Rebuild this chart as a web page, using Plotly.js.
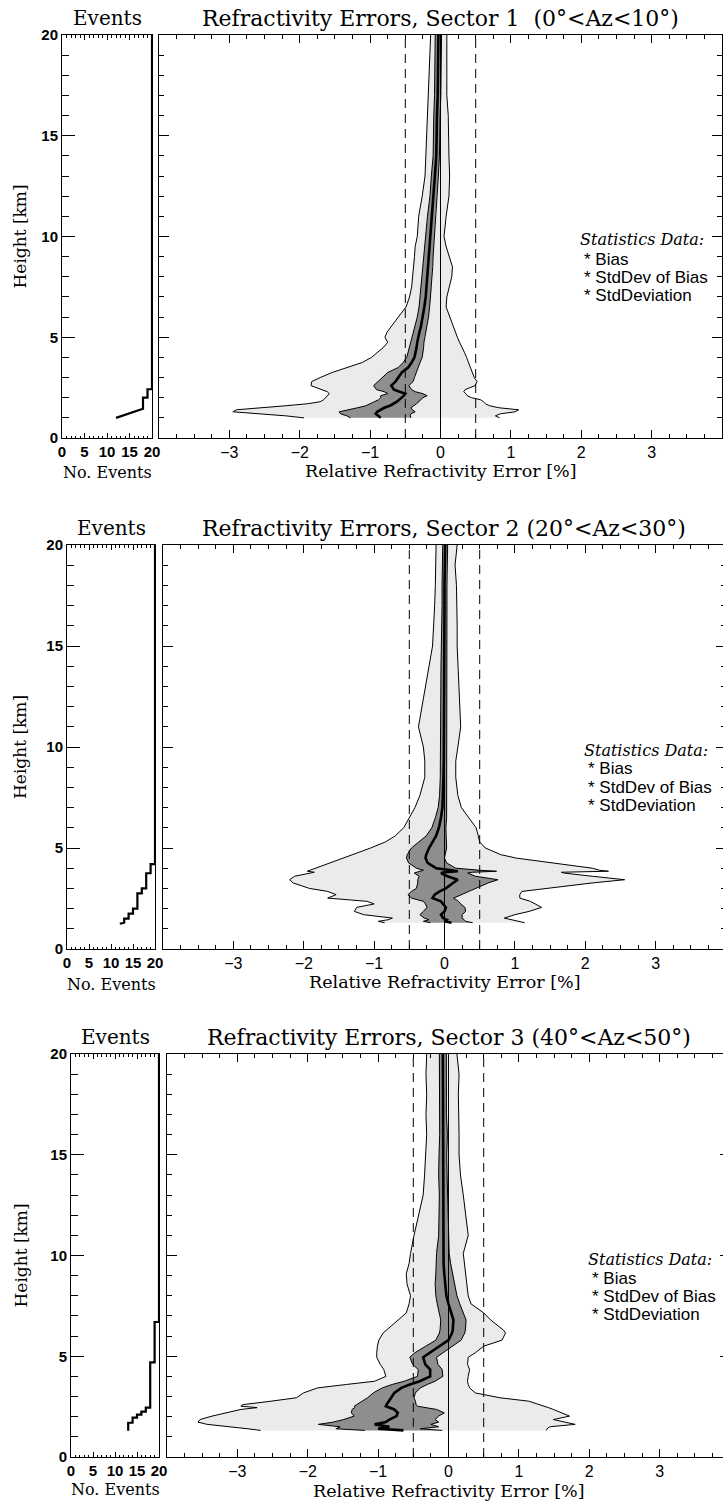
<!DOCTYPE html>
<html>
<head>
<meta charset="utf-8">
<script src="https://cdn.plot.ly/plotly-3.0.1.min.js"></script>
<style>
html,body{margin:0;padding:0;background:#fff;overflow:hidden;}
#plot{width:735px;height:1504px;}
</style>
</head>
<body>
<div id="plot"></div>
<script>
// ---------------- DATA ----------------
// Sector 1
const h1    = [20,19,18,17,16,15,14,13,12,11,10,9.5,9,8.5,8,7.5,7,6.5,6,5.5,5.25,5,4.75,4.5,4.25,4,3.75,3.5,3.25,3,2.8,2.6,2.4,2.3,2.2,2.1,2,1.9,1.8,1.7,1.6,1.5,1.4,1.3,1.2,1.1,1.0];
const sdL1  = [-0.14,-0.15,-0.16,-0.17,-0.18,-0.19,-0.2,-0.22,-0.26,-0.31,-0.33,-0.36,-0.37,-0.38,-0.39,-0.41,-0.44,-0.49,-0.6,-0.71,-0.76,-0.79,-0.75,-0.81,-0.9,-0.98,-1.11,-1.32,-1.54,-1.71,-1.83,-1.84,-1.68,-1.61,-1.58,-1.61,-1.64,-1.66,-1.71,-1.89,-2.2,-2.56,-2.9,-2.95,-2.5,-2.2,-1.94];
const sdR1  = [0.09,0.09,0.08,0.09,0.11,0.11,0.12,0.13,0.12,0.08,0.05,0.08,0.13,0.17,0.16,0.12,0.09,0.08,0.13,0.18,0.21,0.24,0.27,0.31,0.34,0.37,0.4,0.42,0.45,0.48,0.52,0.49,0.35,0.33,0.36,0.38,0.44,0.57,0.61,0.64,0.7,0.83,1.11,1.06,0.85,0.78,0.84];
const bias1 = [-0.03,-0.03,-0.04,-0.04,-0.05,-0.05,-0.06,-0.08,-0.1,-0.13,-0.15,-0.16,-0.17,-0.18,-0.19,-0.2,-0.21,-0.23,-0.25,-0.28,-0.3,-0.32,-0.33,-0.34,-0.35,-0.37,-0.41,-0.46,-0.55,-0.6,-0.64,-0.7,-0.66,-0.58,-0.5,-0.52,-0.55,-0.58,-0.62,-0.67,-0.72,-0.8,-0.85,-0.9,-0.92,-0.88,-0.85];
const sdb1  = [0.045,0.045,0.045,0.045,0.045,0.045,0.045,0.05,0.05,0.055,0.06,0.06,0.065,0.07,0.07,0.07,0.075,0.075,0.08,0.085,0.09,0.09,0.095,0.1,0.105,0.11,0.12,0.14,0.2,0.23,0.25,0.25,0.25,0.22,0.25,0.33,0.3,0.3,0.32,0.33,0.34,0.38,0.45,0.54,0.5,0.45,0.43];
const ev1X  = [20,20,19,19,18,18,12];
const ev1Y  = [20,2.42,2.42,2.0,2.0,1.45,1.0];

// Sector 2
const h2    = [20,19,18,17,16,15,14,13,12,11,10,9.3,8.5,7.6,7.0,6.5,6.0,5.6,5.3,5.0,4.67,4.5,4.26,4.0,3.9,3.85,3.8,3.76,3.6,3.43,3.27,3.0,2.85,2.69,2.52,2.36,2.23,2.06,1.86,1.7,1.53,1.45,1.37,1.3];
const sdL2  = [-0.12,-0.12,-0.13,-0.14,-0.16,-0.17,-0.22,-0.27,-0.32,-0.37,-0.3,-0.28,-0.28,-0.35,-0.42,-0.5,-0.58,-0.7,-0.84,-1.05,-1.3,-1.43,-1.62,-1.82,-1.9,-1.95,-1.85,-1.9,-2.13,-2.2,-2.15,-1.92,-1.66,-1.54,-1.66,-1.1,-1.0,-1.25,-1.28,-1.15,-0.74,-0.8,-0.94,-0.85];
const sdR2  = [0.18,0.15,0.17,0.18,0.18,0.18,0.19,0.2,0.22,0.23,0.19,0.16,0.16,0.19,0.24,0.35,0.45,0.48,0.5,0.58,0.8,1.02,1.53,2.1,2.2,2.33,1.66,1.7,2.1,2.56,2.1,1.48,1.1,1.07,1.07,1.22,1.3,1.38,1.2,1.0,0.85,0.96,1.05,1.14];
const bias2 = [0.01,0.0,0.0,0.0,0.0,-0.01,-0.01,-0.01,-0.01,-0.01,-0.01,-0.01,-0.015,-0.02,-0.03,-0.05,-0.08,-0.12,-0.17,-0.22,-0.26,-0.27,-0.24,-0.12,0.1,0.19,0.0,-0.05,0.04,0.19,0.12,0.02,-0.07,-0.14,-0.17,-0.05,-0.02,0.02,0.0,-0.05,-0.02,0.03,0.0,0.1];
const sdb2  = [0.035,0.035,0.035,0.035,0.035,0.035,0.04,0.04,0.04,0.04,0.04,0.04,0.045,0.05,0.06,0.08,0.1,0.14,0.2,0.25,0.27,0.27,0.27,0.28,0.4,0.55,0.4,0.38,0.4,0.57,0.5,0.42,0.4,0.38,0.3,0.25,0.25,0.27,0.3,0.3,0.27,0.25,0.3,0.3];
const ev2X  = [20,20,19,19,18,18,17,17,16,16,15,15,14,14,13,13,12];
const ev2Y  = [20,4.2,4.2,3.75,3.75,3.0,3.0,2.75,2.75,2.0,2.0,1.75,1.75,1.5,1.5,1.3,1.25];

// Sector 3
const h3    = [20,19,18,17,16,15,14,13,12,11,10.1,9.6,9.1,8.6,8.0,7.6,7.15,6.8,6.3,6.15,5.8,5.5,5.17,4.95,4.6,4.34,4.0,3.76,3.6,3.43,3.18,2.94,2.77,2.6,2.52,2.45,2.36,2.19,2.03,1.86,1.73,1.62,1.5,1.4,1.32];
const sdL3  = [-0.31,-0.32,-0.31,-0.32,-0.31,-0.32,-0.34,-0.36,-0.43,-0.49,-0.54,-0.56,-0.6,-0.59,-0.54,-0.56,-0.6,-0.72,-0.89,-0.93,-0.99,-1.01,-1.02,-1.02,-0.97,-0.92,-0.89,-1.05,-1.45,-1.86,-2.06,-2.16,-2.52,-2.92,-2.95,-2.72,-2.95,-3.18,-3.36,-3.53,-3.56,-3.43,-3.08,-2.85,-2.67];
const sdR3  = [0.12,0.15,0.14,0.15,0.15,0.15,0.17,0.21,0.25,0.28,0.21,0.23,0.25,0.26,0.28,0.32,0.5,0.6,0.78,0.81,0.76,0.5,0.38,0.28,0.27,0.3,0.28,0.27,0.28,0.3,0.38,0.73,1.14,1.3,1.39,1.42,1.49,1.6,1.72,1.49,1.64,1.8,1.44,1.4,1.39];
const bias3 = [-0.08,-0.08,-0.07,-0.08,-0.07,-0.08,-0.08,-0.07,-0.07,-0.07,-0.08,-0.07,-0.06,-0.05,-0.03,0.0,0.04,0.07,0.06,0.05,0.0,-0.13,-0.28,-0.36,-0.33,-0.26,-0.26,-0.41,-0.55,-0.67,-0.77,-0.82,-0.85,-0.88,-0.89,-0.83,-0.77,-0.72,-0.74,-0.84,-0.89,-1.05,-0.84,-1.0,-0.64];
const sdb3  = [0.05,0.05,0.05,0.05,0.055,0.055,0.06,0.06,0.065,0.07,0.09,0.1,0.12,0.14,0.15,0.16,0.17,0.18,0.18,0.18,0.18,0.19,0.2,0.19,0.18,0.17,0.18,0.22,0.25,0.27,0.3,0.33,0.38,0.42,0.45,0.5,0.6,0.66,0.6,0.65,0.75,0.8,0.7,0.6,0.55];
const ev3X  = [20,20,19,19,18,18,17,17,16,16,15,15,14,14,13,13];
const ev3Y  = [20,6.7,6.7,4.7,4.7,2.45,2.45,2.25,2.25,2.1,2.1,1.95,1.95,1.7,1.7,1.3];

const titles = [
  'Refractivity Errors, Sector 1 \u00a0(0°&lt;Az&lt;10°)',
  'Refractivity Errors, Sector 2 (20°&lt;Az&lt;30°)',
  'Refractivity Errors, Sector 3 (40°&lt;Az&lt;50°)'
];
const mainTickVals = [-4,-3,-2,-1,0,1,2,3,4];
const mainTickText = ['','\u22123','\u22122','\u22121','0','1','2','3',''];
const evTickVals = [0,5,10,15,20];
const evTickText = ['0','5','10','15','20'];
const hTickVals = [0,5,10,15,20];
const hTickText = ['0','5','10','15','20'];
const legendItems = ['* Bias','* StdDev of Bias','* StdDeviation'];
const refLines = [0,-0.5,0.5];

const sectors = [
  {h:h1, sdL:sdL1, sdR:sdR1, bias:bias1, sdb:sdb1, evX:ev1X, evY:ev1Y},
  {h:h2, sdL:sdL2, sdR:sdR2, bias:bias2, sdb:sdb2, evX:ev2X, evY:ev2Y},
  {h:h3, sdL:sdL3, sdR:sdR3, bias:bias3, sdb:sdb3, evX:ev3X, evY:ev3Y}
];

// ---------------- LAYOUT GEOMETRY (pixels) ----------------
const W = 735, H = 1504;
const PANELS = [
  {ev:[62,152], main:[159,722], y:[35,438], subY:35, xtY:33},
  {ev:[67,155], main:[163,726], y:[545,949], subY:35, xtY:33},
  {ev:[71,159], main:[167,730], y:[1054,1457], subY:32, xtY:34}
];
const px = v => v / W;
const py = v => 1 - v / H;
const SERIF = 'DejaVu Serif';
const SANS = 'Liberation Sans';
const LIGHT = '#ebebeb';
const DARK = '#8e8e8e';

const axId = n => (n === 1 ? '' : String(n));
const traces = [];
const layout = {
  width: W, height: H,
  margin: {l:0, r:0, t:0, b:0, pad:0},
  paper_bgcolor: '#fff', plot_bgcolor: '#fff',
  showlegend: false,
  annotations: [], shapes: []
};

function ann(text, x, y, opts) {
  layout.annotations.push(Object.assign({
    text: text, x: px(x), y: py(y), xref: 'paper', yref: 'paper',
    showarrow: false, xanchor: 'center', yanchor: 'middle',
    font: {family: SERIF, size: 16, color: '#000'}
  }, opts || {}));
}

sectors.forEach((s, i) => {
  const P = PANELS[i];
  const nE = 2 * i + 1, nM = 2 * i + 2;
  const xE = 'x' + axId(nE), yE = 'y' + axId(nE);
  const xM = 'x' + axId(nM), yM = 'y' + axId(nM);
  const yDom = [py(P.y[1]), py(P.y[0])];

  // events axes
  layout['xaxis' + axId(nE)] = {
    domain: [px(P.ev[0]), px(P.ev[1])], anchor: yE, range: [0, 20],
    tickmode: 'array', tickvals: evTickVals, ticktext: evTickText,
    ticks: 'inside', ticklen: 5, tickwidth: 1, tickcolor: '#000',
    minor: {tickmode: 'linear', tick0: 0, dtick: 1, ticks: 'inside', ticklen: 2.5, tickwidth: 1, tickcolor: '#000'},
    showline: true, linecolor: '#000', linewidth: 1, mirror: 'ticks',
    showgrid: false, zeroline: false, fixedrange: true,
    tickfont: {family: SANS, size: 15, color: '#000', weight: 'bold'}
  };
  layout['yaxis' + axId(nE)] = {
    domain: yDom, anchor: xE, range: [0, 20],
    tickmode: 'array', tickvals: hTickVals, ticktext: hTickText,
    ticks: 'inside', ticklen: 13, tickwidth: 1, tickcolor: '#000',
    minor: {tickmode: 'linear', tick0: 0, dtick: 1, ticks: 'inside', ticklen: 7, tickwidth: 1, tickcolor: '#000'},
    showline: true, linecolor: '#000', linewidth: 1, mirror: true,
    showgrid: false, zeroline: false, fixedrange: true,
    tickfont: {family: SANS, size: 15, color: '#000', weight: 'bold'}
  };
  // main axes
  layout['xaxis' + axId(nM)] = {
    domain: [px(P.main[0]), px(P.main[1])], anchor: yM, range: [-4, 4],
    tickmode: 'array', tickvals: mainTickVals, ticktext: mainTickText,
    ticks: 'inside', ticklen: 8, tickwidth: 1, tickcolor: '#000',
    minor: {tickmode: 'linear', tick0: 0, dtick: 0.25, ticks: 'inside', ticklen: 4, tickwidth: 1, tickcolor: '#000'},
    showline: true, linecolor: '#000', linewidth: 1, mirror: 'ticks',
    showgrid: false, zeroline: false, fixedrange: true,
    tickfont: {family: SANS, size: 16, color: '#000'}
  };
  layout['yaxis' + axId(nM)] = {
    domain: yDom, anchor: xM, range: [0, 20],
    tickmode: 'linear', tick0: 0, dtick: 5, showticklabels: false,
    ticks: 'inside', ticklen: 10, tickwidth: 1, tickcolor: '#000',
    minor: {tickmode: 'linear', tick0: 0, dtick: 1, ticks: 'inside', ticklen: 5, tickwidth: 1, tickcolor: '#000'},
    showline: true, linecolor: '#000', linewidth: 1, mirror: 'ticks',
    showgrid: false, zeroline: false, fixedrange: true
  };

  // StdDeviation band
  const revH = s.h.slice().reverse();
  traces.push({
    type: 'scatter', mode: 'lines', xaxis: xM, yaxis: yM,
    x: s.sdL.concat(s.sdR.slice().reverse()), y: s.h.concat(revH),
    fill: 'toself', fillcolor: LIGHT, line: {width: 0, color: LIGHT}, hoverinfo: 'skip'
  });
  [s.sdL, s.sdR].forEach(edge => traces.push({
    type: 'scatter', mode: 'lines', xaxis: xM, yaxis: yM,
    x: edge, y: s.h, line: {color: '#000', width: 1}, hoverinfo: 'skip'
  }));
  // StdDev of Bias band
  const bLo = s.bias.map((b, k) => b - s.sdb[k]);
  const bHi = s.bias.map((b, k) => b + s.sdb[k]);
  traces.push({
    type: 'scatter', mode: 'lines', xaxis: xM, yaxis: yM,
    x: bLo.concat(bHi.slice().reverse()), y: s.h.concat(revH),
    fill: 'toself', fillcolor: DARK, line: {width: 0, color: DARK}, hoverinfo: 'skip'
  });
  [bLo, bHi].forEach(edge => traces.push({
    type: 'scatter', mode: 'lines', xaxis: xM, yaxis: yM,
    x: edge, y: s.h, line: {color: '#000', width: 1}, hoverinfo: 'skip'
  }));
  // Bias
  traces.push({
    type: 'scatter', mode: 'lines', xaxis: xM, yaxis: yM,
    x: s.bias, y: s.h, line: {color: '#000', width: 2.6}, hoverinfo: 'skip'
  });
  // Events
  traces.push({
    type: 'scatter', mode: 'lines', xaxis: xE, yaxis: yE,
    x: s.evX, y: s.evY, line: {color: '#000', width: 2.2}, hoverinfo: 'skip'
  });

  // reference lines
  refLines.forEach(v => layout.shapes.push({
    type: 'line', xref: xM, yref: yM + ' domain', x0: v, x1: v, y0: 0, y1: 1,
    line: {color: '#000', width: 1, dash: v === 0 ? 'solid' : '9px,6px'}, layer: 'above'
  }));

  // texts
  const mc = (P.main[0] + P.main[1]) / 2;
  const ec = (P.ev[0] + P.ev[1]) / 2;
  ann(titles[i], mc, P.y[0] - 17, {font: {family: SERIF, size: 22, color: '#000'}});
  ann('Events', ec, P.y[0] - 17, {font: {family: SERIF, size: 20, color: '#000'}});
  ann('Relative Refractivity Error [%]', mc, P.y[1] + P.xtY, {font: {family: SERIF, size: 17.5, color: '#000'}});
  ann('No. Events', ec, P.y[1] + P.subY, {font: {family: SERIF, size: 16, color: '#000'}});
  ann('Height [km]', 20, (P.y[0] + P.y[1]) / 2, {textangle: -90, font: {family: SERIF, size: 17, color: '#000'}});
  ann('<i>Statistics Data:</i>', P.main[0] + 419, P.y[0] + 205, {xanchor: 'left', font: {family: SERIF, size: 16, color: '#000'}});
  legendItems.forEach((t, k) => ann(t, P.main[0] + 423, P.y[0] + 224 + 18 * k,
    {xanchor: 'left', font: {family: SANS, size: 17, color: '#000'}}));
});

Plotly.newPlot('plot', traces, layout, {staticPlot: true, displayModeBar: false});
</script>
</body>
</html>
